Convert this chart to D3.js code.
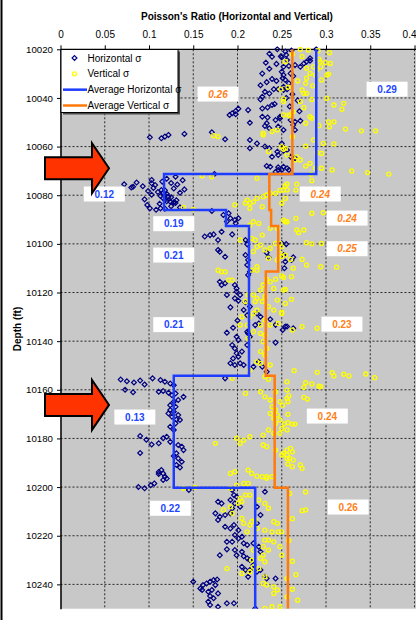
<!DOCTYPE html>
<html>
<head>
<meta charset="utf-8">
<script src="https://cdn.jsdelivr.net/npm/d3@7"></script>
<style>
  html, body { margin: 0; padding: 0; background: #fff; }
  svg { display: block; font-family: "Liberation Sans", Arial, sans-serif; }
</style>
</head>
<body>
<svg id="chart" width="416" height="620"></svg>
<script>
// ---- Axis ticks ----
const xTicks = [0, 0.05, 0.1, 0.15, 0.2, 0.25, 0.3, 0.35, 0.4];
const xTickLabels = ["0", "0.05", "0.1", "0.15", "0.2", "0.25", "0.3", "0.35", "0.4"];
const yTicks = [10020, 10040, 10060, 10080, 10100, 10120, 10140, 10160, 10180, 10200, 10220, 10240];

// ---- Horizontal Poisson's ratio samples: [depth ft, ratio] ----
const horizontalSigma = [
  [10020.0,0.245],[10020.9,0.254],[10020.5,0.261],[10020.0,0.289],[10023.1,0.239],[10022.9,0.249],[10022.3,0.255],[10023.7,0.282],
  [10027.2,0.252],[10026.9,0.258],[10026.5,0.265],[10027.2,0.271],[10025.8,0.275],[10025.1,0.278],[10024.7,0.282],[10030.6,0.252],
  [10029.9,0.260],[10031.0,0.263],[10032.6,0.254],[10034.0,0.258],[10036.7,0.252],[10036.4,0.256],
  [10047.7,0.248],[10049.1,0.260],[10049.8,0.265],[10049.4,0.271],[10051.1,0.263],[10053.2,0.265],[10058.7,0.250],[10060.3,0.252],
  [10061.4,0.256],[10064.2,0.260],[10064.8,0.265],[10068.3,0.252],[10069.6,0.258],
  [10023.3,0.250],[10024.4,0.256],[10029.2,0.250],[10031.9,0.251],[10032.2,0.239],[10036.4,0.241],[10036.4,0.246],[10035.4,0.252],
  [10039.5,0.228],[10040.6,0.226],[10042.5,0.242],[10042.9,0.239],[10043.9,0.234],[10044.3,0.228],[10045.0,0.212],[10044.4,0.201],
  [10045.4,0.198],[10046.3,0.194],[10047.0,0.191],[10046.7,0.198],[10047.7,0.228],[10048.0,0.234],[10049.1,0.243],[10048.4,0.248],
  [10050.2,0.214],[10050.4,0.233],[10051.5,0.231],[10052.5,0.236],[10051.8,0.246],[10053.2,0.252],[10057.3,0.214],[10058.7,0.222],
  [10060.7,0.214],[10060.0,0.231],[10060.7,0.236],[10062.1,0.245],[10061.7,0.252],[10064.2,0.239],[10063.5,0.246],[10068.0,0.233],
  [10068.3,0.237],[10068.5,0.246],[10069.6,0.250],[10068.9,0.256],[10054.1,0.171],[10057.0,0.186],[10054.8,0.140],[10055.2,0.122],
  [10055.9,0.118],[10056.6,0.114],[10056.2,0.101],[10071.3,0.174],[10070.4,0.243],[10069.6,0.246],
  [10025.5,0.232],[10028.0,0.236],[10030.0,0.228],[10033.5,0.233],[10034.8,0.226],[10037.5,0.231],[10038.2,0.236],[10026.0,0.244],
  [10033.0,0.244],[10021.8,0.236],[10038.5,0.262],[10041.0,0.268],[10043.5,0.259],[10045.5,0.270],[10040.0,0.255],
  [10072.4,0.130],[10073.2,0.120],[10073.8,0.138],[10074.4,0.115],[10075.0,0.125],[10075.6,0.132],[10076.3,0.093],[10076.5,0.082],
  [10077.2,0.128],[10077.6,0.140],[10078.0,0.118],[10078.3,0.099],[10078.7,0.110],[10079.0,0.135],[10079.4,0.120],[10079.8,0.103],
  [10080.3,0.113],[10080.8,0.125],[10081.2,0.116],[10081.7,0.095],[10082.1,0.131],[10082.5,0.120],[10083.0,0.128],[10083.5,0.112],
  [10084.0,0.098],[10084.5,0.125],[10085.0,0.135],[10085.5,0.118],[10086.0,0.108],
  [10075.1,0.103],[10075.8,0.107],[10077.0,0.105],[10077.9,0.114],[10079.0,0.116],[10079.9,0.118],[10080.6,0.122],[10082.0,0.118],
  [10082.7,0.124],[10083.1,0.128],[10085.4,0.113],[10083.2,0.130],[10073.7,0.103],[10085.4,0.101],[10075.5,0.072],[10076.8,0.080],
  [10074.8,0.086],
  [10086.5,0.171],[10088.1,0.184],[10087.4,0.190],[10089.5,0.192],[10090.2,0.197],[10089.5,0.201],[10091.5,0.198],[10090.8,0.188],
  [10095.0,0.182],[10096.4,0.169],[10097.0,0.163],[10096.1,0.173],[10098.4,0.178],[10096.1,0.194],[10098.4,0.209],[10100.2,0.211],
  [10102.5,0.178],[10103.2,0.180],[10105.3,0.186],[10104.6,0.209],[10106.6,0.212],[10108.7,0.211],[10103.6,0.233],[10105.5,0.235],
  [10111.5,0.214],[10112.8,0.212],[10115.6,0.180],[10116.9,0.182],[10116.2,0.186],[10116.9,0.197],[10118.3,0.199],[10119.7,0.199],
  [10121.0,0.188],[10121.0,0.203],[10122.4,0.197],[10123.4,0.201],[10126.1,0.192],[10124.0,0.209],[10125.8,0.214],[10127.2,0.207],
  [10129.3,0.211],[10128.6,0.222],[10130.0,0.226],[10132.7,0.224],[10133.4,0.220],[10131.0,0.237],[10133.3,0.243],[10134.0,0.256],
  [10099.8,0.250],[10100.1,0.255],[10104.6,0.252],[10105.5,0.263],[10106.6,0.261],[10107.3,0.254],[10110.0,0.253],[10134.0,0.254],
  [10134.7,0.263],[10135.4,0.251],[10134.5,0.195],[10136.5,0.188],[10131.5,0.200],
  [10138.2,0.199],[10139.5,0.201],[10141.6,0.194],[10143.0,0.197],[10145.0,0.199],[10144.3,0.205],[10146.4,0.201],[10147.1,0.195],
  [10149.1,0.192],[10149.1,0.203],[10149.8,0.197],[10149.8,0.207],[10136.1,0.211],[10136.8,0.212],[10138.2,0.214],[10141.6,0.211],
  [10148.5,0.224],[10150.5,0.218],[10150.5,0.228],[10152.6,0.233],[10140.6,0.243],[10155.3,0.186],
  [10155.3,0.104],[10156.0,0.113],[10156.7,0.118],[10157.4,0.124],[10158.1,0.128],[10160.8,0.111],[10160.5,0.116],[10161.2,0.122],
  [10162.2,0.126],[10161.5,0.130],[10162.9,0.139],[10164.2,0.133],[10164.9,0.128],[10166.3,0.124],[10167.0,0.130],[10168.3,0.124],
  [10169.0,0.128],[10169.7,0.122],[10170.4,0.133],[10171.1,0.126],[10172.2,0.131],[10172.4,0.135],[10173.8,0.130],[10175.2,0.124],
  [10176.5,0.128],[10179.3,0.120],[10179.9,0.116],[10182.0,0.111],[10181.4,0.124],[10182.7,0.133],[10183.4,0.137],[10184.8,0.139],
  [10186.1,0.131],[10187.2,0.128],[10188.2,0.133],[10189.6,0.137],[10190.9,0.131],[10191.9,0.135],[10193.0,0.114],[10194.4,0.116],
  [10195.7,0.118],[10194.6,0.111],
  [10155.8,0.068],[10156.5,0.075],[10157.0,0.083],[10156.2,0.090],[10157.8,0.095],[10160.0,0.073],[10161.0,0.082],[10179.0,0.090],
  [10180.5,0.097],[10182.5,0.103],[10186.0,0.090],[10199.2,0.102],[10198.5,0.106],[10197.1,0.116],[10196.5,0.120],[10193.8,0.111],
  [10200.0,0.088],[10200.5,0.095],
  [10201.2,0.145],[10206.0,0.178],[10206.7,0.182],[10210.8,0.175],[10212.2,0.180],[10213.5,0.178],[10211.5,0.186],[10201.2,0.194],
  [10203.3,0.196],[10205.3,0.192],[10206.7,0.197],[10208.8,0.194],[10210.8,0.192],[10204.0,0.199],[10208.1,0.203],[10216.3,0.186],
  [10217.0,0.192],[10215.6,0.196],[10217.7,0.201],[10219.7,0.197],[10221.1,0.201],[10220.4,0.205],[10222.5,0.188],[10222.5,0.194],
  [10223.1,0.207],[10223.8,0.211],[10225.6,0.188],[10225.9,0.197],[10226.6,0.205],[10228.0,0.180],[10228.0,0.199],[10228.4,0.207],
  [10229.3,0.211],[10230.0,0.214],[10232.8,0.205],[10232.0,0.218],[10234.1,0.209],[10234.1,0.214],[10234.8,0.222],[10236.9,0.212],
  [10223.1,0.218],[10224.5,0.224],[10226.6,0.226],[10201.9,0.231],[10208.1,0.222],[10211.5,0.226],[10214.9,0.222],[10234.1,0.226],
  [10236.9,0.231],[10237.6,0.243],[10237.6,0.233],
  [10238.9,0.150],[10241.7,0.158],[10240.3,0.161],[10242.3,0.160],[10239.6,0.165],[10238.9,0.169],[10238.2,0.173],[10238.0,0.177],
  [10240.3,0.175],[10243.0,0.167],[10242.3,0.171],[10243.7,0.178],[10244.8,0.169],[10245.7,0.173],[10247.1,0.167],[10248.5,0.169],
  [10249.2,0.178],[10247.8,0.188],[10247.8,0.196],[10249.9,0.220]
];

// ---- Vertical Poisson's ratio samples: [depth ft, ratio] ----
const verticalSigma = [
  [10020.0,0.271],[10020.3,0.280],[10020.6,0.291],[10021.4,0.304],[10023.0,0.273],[10024.1,0.292],
  [10025.1,0.254],[10025.1,0.293],[10025.5,0.299],[10025.8,0.305],[10027.2,0.286],[10027.8,0.278],[10028.2,0.290],[10027.2,0.294],
  [10029.9,0.282],[10030.6,0.288],[10030.6,0.301],[10030.2,0.303],[10032.6,0.295],[10031.9,0.278],[10034.0,0.277],[10036.7,0.273],
  [10038.1,0.275],[10038.1,0.278],[10041.5,0.271],[10040.6,0.284],[10040.2,0.301],[10041.5,0.252],[10042.9,0.309],[10042.2,0.320],
  [10044.7,0.318],[10045.7,0.263],[10047.0,0.252],[10047.0,0.258],[10047.7,0.282],[10048.4,0.284],[10049.8,0.303],[10049.8,0.309],
  [10051.4,0.292],[10051.8,0.304],[10052.8,0.322],[10053.5,0.340],[10053.5,0.356],[10050.4,0.277],[10057.3,0.286],[10058.7,0.297],
  [10058.9,0.309],[10059.8,0.277],[10061.1,0.252],[10062.5,0.290],[10062.8,0.295],[10064.2,0.267],[10065.5,0.271],[10065.5,0.265],
  [10066.9,0.282],[10068.0,0.277],[10068.9,0.288],[10068.9,0.295],[10069.6,0.307],[10070.0,0.329],[10070.7,0.347],[10071.3,0.371],
  [10071.4,0.283],[10074.0,0.284],[10075.4,0.256],[10075.4,0.267],[10077.9,0.266],[10077.9,0.252],[10087.4,0.284],[10087.2,0.297],
  [10089.5,0.266],
  [10036.4,0.249],[10035.6,0.257],[10040.4,0.252],[10047.4,0.259],[10053.2,0.245],[10053.8,0.239],[10054.5,0.229],[10055.2,0.229],
  [10055.5,0.173],[10055.9,0.178],[10060.0,0.250],[10060.7,0.254],[10062.1,0.235],[10063.5,0.256],[10073.0,0.222],[10072.4,0.171],
  [10072.0,0.160],[10033.0,0.268],[10035.0,0.285],[10022.0,0.262],[10044.0,0.275],[10056.0,0.262],
  [10085.0,0.139],[10085.8,0.150],[10079.9,0.233],[10079.2,0.237],[10080.6,0.229],[10081.3,0.222],[10082.7,0.218],[10082.0,0.211],
  [10083.3,0.209],[10083.3,0.214],[10084.0,0.197],[10084.7,0.228],[10085.4,0.214],[10079.2,0.243],[10078.0,0.248],[10076.2,0.254],
  [10077.8,0.256],[10081.3,0.254],[10083.3,0.250],[10090.2,0.252],[10090.9,0.256],[10093.6,0.245],[10093.6,0.237],[10091.6,0.224],
  [10090.9,0.218],[10092.3,0.214],[10098.4,0.203],[10097.7,0.216],[10098.4,0.220],[10096.4,0.228],[10101.2,0.222],[10100.5,0.226],
  [10102.5,0.231],[10103.2,0.218],[10101.8,0.237],[10099.8,0.243],[10099.8,0.248],[10101.2,0.250],[10103.9,0.248],[10106.6,0.245],
  [10105.2,0.250],[10109.4,0.222],[10110.8,0.216],[10110.8,0.222],[10105.9,0.235],[10113.8,0.252],[10114.5,0.243],[10114.5,0.233],
  [10115.6,0.237],[10116.9,0.229],[10118.3,0.241],[10110.8,0.178],[10111.5,0.182],[10111.5,0.186],[10114.9,0.190],[10114.9,0.194],
  [10119.0,0.226],[10121.0,0.218],[10121.0,0.212],[10122.4,0.222],[10123.7,0.209],[10123.7,0.220],[10121.7,0.231],[10123.7,0.228],
  [10125.8,0.235],[10123.1,0.245],[10127.2,0.241],[10127.2,0.222],[10128.6,0.218],[10130.0,0.214],[10130.0,0.205],[10133.4,0.203],
  [10133.4,0.211],[10133.4,0.226],[10131.3,0.231],[10133.4,0.237],[10132.7,0.246],[10128.6,0.250],[10124.5,0.254],
  [10090.9,0.254],[10094.3,0.267],[10095.4,0.269],[10094.3,0.275],[10099.5,0.278],[10100.0,0.284],[10099.8,0.295],[10104.6,0.254],
  [10106.4,0.260],[10106.4,0.273],[10108.7,0.278],[10109.4,0.294],[10109.6,0.312],[10110.0,0.263],[10113.2,0.250],[10113.5,0.261],
  [10119.0,0.252],[10118.7,0.254],[10122.8,0.261],[10128.1,0.250],[10134.0,0.273],[10134.7,0.290],[10135.4,0.262],
  [10136.1,0.218],[10136.8,0.226],[10137.5,0.231],[10138.9,0.212],[10140.2,0.229],[10143.0,0.233],[10144.3,0.226],[10145.7,0.231],
  [10148.5,0.222],[10149.1,0.226],[10149.8,0.237],[10151.9,0.214],[10154.6,0.231],[10155.7,0.235],[10155.3,0.194],
  [10152.1,0.264],[10152.8,0.290],[10152.9,0.307],[10154.3,0.309],[10153.6,0.320],[10154.3,0.326],[10153.5,0.345],[10155.0,0.355],
  [10156.7,0.256],[10161.5,0.209],[10160.8,0.226],[10162.9,0.231],[10164.2,0.237],[10160.8,0.243],[10164.9,0.248],[10163.5,0.256],
  [10167.0,0.239],[10168.3,0.243],[10169.7,0.237],[10170.4,0.245],[10171.7,0.241],[10172.4,0.248],[10173.8,0.243],[10176.5,0.235],
  [10178.6,0.229],[10177.9,0.241],[10177.9,0.248],[10176.5,0.256],[10179.9,0.199],[10182.0,0.203],[10180.7,0.207],[10179.3,0.214],
  [10182.0,0.175],[10182.7,0.229],[10183.4,0.233],[10184.8,0.243],[10186.8,0.250],[10188.2,0.256],[10194.4,0.192],[10193.7,0.197],
  [10193.0,0.212],[10194.4,0.216],[10195.5,0.222],[10195.7,0.228],[10195.7,0.233],[10195.7,0.239],
  [10157.1,0.277],[10157.6,0.284],[10158.5,0.292],[10158.7,0.294],[10159.0,0.275],[10160.1,0.256],[10162.5,0.258],[10164.9,0.257],
  [10166.3,0.251],[10163.1,0.275],[10163.8,0.279],[10170.1,0.257],[10173.5,0.257],[10174.1,0.262],[10174.1,0.265],[10175.9,0.250],
  [10174.0,0.253],[10184.8,0.256],[10184.1,0.260],[10185.5,0.262],[10186.8,0.256],[10188.2,0.259],[10188.9,0.263],[10190.5,0.257],
  [10191.6,0.262],[10190.9,0.271],[10192.3,0.273],[10186.0,0.252],
  [10196.4,0.233],[10198.5,0.207],[10198.5,0.212],[10200.5,0.139],[10200.1,0.152],[10200.5,0.192],[10199.2,0.199],[10204.6,0.203],
  [10205.9,0.205],[10206.6,0.201],[10203.3,0.209],[10203.3,0.214],[10205.3,0.224],[10206.7,0.231],[10208.7,0.235],[10214.9,0.245],
  [10214.2,0.241],[10218.4,0.246],[10218.4,0.239],[10217.7,0.231],[10213.5,0.220],[10214.2,0.216],[10212.9,0.205],[10214.9,0.207],
  [10215.6,0.214],[10218.4,0.211],[10217.0,0.222],[10210.8,0.194],[10208.1,0.192],[10209.4,0.184],[10221.8,0.231],[10221.8,0.235],
  [10222.5,0.241],[10224.5,0.229],[10225.9,0.235],[10224.5,0.248],[10228.0,0.250],[10225.9,0.218],[10229.3,0.226],[10230.7,0.231],
  [10228.0,0.229],[10230.0,0.216],[10232.8,0.218],[10233.5,0.224],[10233.5,0.188],[10235.5,0.205],[10234.8,0.214],[10236.9,0.231],
  [10240.3,0.233],[10239.6,0.229],[10241.0,0.241],[10242.3,0.245],[10243.7,0.241],[10249.9,0.231],[10249.2,0.239],[10249.2,0.248],
  [10237.6,0.256],[10245.1,0.256],[10202.6,0.259],[10202.0,0.277],[10209.7,0.273],[10209.4,0.277],[10218.4,0.250],
  [10230.5,0.262],[10236.0,0.266],[10242.0,0.262],[10246.5,0.268],[10222.0,0.258],[10213.0,0.262]
];

// ---- Zone averages: depth breaks (ft) and average ratio per zone ----
const avgHorizontalBreaks = [10020, 10071.3, 10086.1, 10092.6, 10122, 10154.2, 10200.3, 10250];
const avgHorizontalValues = [0.289, 0.117, 0.187, 0.213, 0.213, 0.128, 0.220];
const avgVerticalBreaks   = [10020, 10071.3, 10086.1, 10092.6, 10111.4, 10154.2, 10200.3, 10250];
const avgVerticalValues   = [0.262, 0.236, 0.238, 0.246, 0.232, 0.242, 0.257];

// ---- Annotation layout (label box centres in axis units, arrow depths) ----
const avgHorizontalLabelAt = [[0.369,10036.4],[0.0495,10079.5],[0.128,10091.7],[0.128,10104.6],[0.128,10133.2],[0.084,10171.2],[0.124,10208.7]];
const avgVerticalLabelAt   = [[0.178,10038.4],[0.2935,10079.5],[0.3238,10089.4],[0.3238,10102.0],[0.318,10133.0],[0.3015,10170.8],[0.325,10208.2]];
const avgVerticalItalic    = [true, true, true, true, false, false, false];
const arrowDepths = [10068.9, 10166.2];

// ---- Layout ----
const W = 416, H = 620;
const plot = { left: 60.5, right: 414.5, top: 49.3, bottom: 608.7 };
const BLUE = "#1e3cff", ORANGE = "#ff7a0a", NAVY = "#000080", YELLOW = "#ffff00";

const svg = d3.select("#chart");
const x = d3.scaleLinear().domain([0, 0.4]).range([plot.left, plot.right]);
const y = d3.scaleLinear().domain([10020, 10250]).range([plot.top, plot.bottom]);

svg.append("rect").attr("width", W).attr("height", H).attr("fill", "#fff");
// chart frame edge on the left
svg.append("line").attr("x1", 1.5).attr("x2", 1.5).attr("y1", 0).attr("y2", H)
  .attr("stroke", "#000").attr("stroke-width", 2);

// plot area
svg.append("rect")
  .attr("x", plot.left).attr("y", plot.top)
  .attr("width", W - plot.left).attr("height", plot.bottom - plot.top)
  .attr("fill", "#c8c8c8");

// gridlines
const grid = svg.append("g").attr("stroke", "#2a2a2a").attr("stroke-width", 1)
  .attr("stroke-dasharray", "2,2");
grid.selectAll("line.v").data(xTicks.filter(d => d > 0)).join("line")
  .attr("x1", d => x(d)).attr("x2", d => x(d))
  .attr("y1", plot.top).attr("y2", plot.bottom);
grid.selectAll("line.h").data(yTicks.filter(d => d > 10020)).join("line")
  .attr("x1", plot.left).attr("x2", W)
  .attr("y1", d => y(d)).attr("y2", d => y(d));

// axes
const xAxis = d3.axisTop(x).tickValues(xTicks)
  .tickFormat((d, i) => xTickLabels[i]).tickSizeInner(4).tickSizeOuter(0).tickPadding(7.5);
const gx = svg.append("g").attr("transform", `translate(0,${plot.top})`).call(xAxis);
gx.select(".domain").attr("d", `M${plot.left},0H${W}`).attr("stroke-width", 1.2);
gx.selectAll("text").attr("font-size", "10px").attr("font-family", "Liberation Sans, Arial, sans-serif").attr("fill", "#000");
// the last tick label sits against the right edge of the chart
gx.selectAll(".tick").filter(d => d === 0.4).select("text")
  .attr("text-anchor", "end").attr("x", W - plot.right);

const yAxis = d3.axisLeft(y).tickValues(yTicks).tickFormat(d3.format("d"))
  .tickSizeInner(3.5).tickSizeOuter(0).tickPadding(4);
const gy = svg.append("g").attr("transform", `translate(${plot.left},0)`).call(yAxis);
gy.select(".domain").attr("stroke-width", 1.5);
gy.selectAll("text").attr("font-size", "9.7px").attr("font-family", "Liberation Sans, Arial, sans-serif").attr("fill", "#000");

// titles
svg.append("text").attr("x", 237).attr("y", 20).attr("text-anchor", "middle")
  .attr("font-size", "10px").attr("font-weight", "bold")
  .text("Poisson's Ratio (Horizontal and Vertical)");
svg.append("text").attr("transform", "translate(20.5,329) rotate(-90)")
  .attr("text-anchor", "middle").attr("font-size", "10px").attr("font-weight", "bold")
  .text("Depth (ft)");

// scatter series
svg.append("clipPath").attr("id", "plotClip").append("rect")
  .attr("x", plot.left).attr("y", plot.top - 3).attr("width", W - plot.left).attr("height", plot.bottom - plot.top + 3);
const marks = svg.append("g").attr("clip-path", "url(#plotClip)");

const diamond = d3.symbol().type(d3.symbolDiamond2).size(15);
marks.append("g").selectAll("path").data(horizontalSigma).join("path")
  .attr("d", diamond)
  .attr("transform", d => `translate(${x(d[1])},${y(d[0])})`)
  .attr("fill", "none").attr("stroke", NAVY).attr("stroke-width", 1.2);

marks.append("g").selectAll("circle").data(verticalSigma).join("circle")
  .attr("cx", d => x(d[1])).attr("cy", d => y(d[0])).attr("r", 2)
  .attr("fill", "none").attr("stroke", YELLOW).attr("stroke-width", 1.3);

// zone-average step lines
function stepPoints(breaks, values) {
  const pts = [];
  values.forEach((v, i) => { pts.push([v, breaks[i]]); pts.push([v, breaks[i + 1]]); });
  return pts;
}
const stepLine = d3.line().x(d => x(d[0])).y(d => y(d[1]));
marks.append("path").datum(stepPoints(avgHorizontalBreaks, avgHorizontalValues))
  .attr("d", stepLine).attr("fill", "none").attr("stroke", BLUE).attr("stroke-width", 2.5);
marks.append("path").datum(stepPoints(avgVerticalBreaks, avgVerticalValues))
  .attr("d", stepLine).attr("fill", "none").attr("stroke", ORANGE).attr("stroke-width", 2.5);

// zone-average value labels
const fmt = d3.format(".2f");
function valueLabels(values, at, color, italic) {
  const g = svg.append("g");
  values.forEach((v, i) => {
    const cx = x(at[i][0]), cy = y(at[i][1]);
    g.append("rect").attr("x", cx - 20.5).attr("y", cy - 7.5).attr("width", 41).attr("height", 15).attr("fill", "#fff");
    g.append("text").attr("x", cx).attr("y", cy).attr("dy", "0.36em")
      .attr("text-anchor", "middle").attr("font-size", "10px").attr("font-weight", "bold")
      .attr("font-style", italic && italic[i] ? "italic" : "normal")
      .attr("fill", color).text(fmt(v));
  });
}
valueLabels(avgHorizontalValues, avgHorizontalLabelAt, "#2246ff", null);
valueLabels(avgVerticalValues, avgVerticalLabelAt, "#ff7f1a", avgVerticalItalic);

// legend
const lg = svg.append("g");
lg.append("rect").attr("x", 63).attr("y", 51.5).attr("width", 117).attr("height", 63).attr("fill", "#4a4a4a");
lg.append("rect").attr("x", 61).attr("y", 49.5).attr("width", 117).attr("height", 63)
  .attr("fill", "#fff").attr("stroke", "#000").attr("stroke-width", 1);
const legendRows = [
  { label: "Horizontal σ", kind: "diamond" },
  { label: "Vertical σ", kind: "circle" },
  { label: "Average Horizontal σ", kind: "line", color: BLUE },
  { label: "Average Vertical σ", kind: "line", color: ORANGE }
];
const rowY = d3.scalePoint().domain(d3.range(legendRows.length)).range([58, 105.5]);
legendRows.forEach((r, i) => {
  const cy = rowY(i);
  if (r.kind === "diamond") {
    lg.append("path").attr("d", diamond).attr("transform", `translate(74.5,${cy})`)
      .attr("fill", "none").attr("stroke", NAVY).attr("stroke-width", 1.2);
  } else if (r.kind === "circle") {
    lg.append("circle").attr("cx", 74.5).attr("cy", cy).attr("r", 2)
      .attr("fill", "none").attr("stroke", YELLOW).attr("stroke-width", 1.3);
  } else {
    lg.append("line").attr("x1", 63).attr("x2", 87).attr("y1", cy).attr("y2", cy)
      .attr("stroke", r.color).attr("stroke-width", 2.5);
  }
  lg.append("text").attr("x", 87.5).attr("y", cy).attr("dy", "0.35em")
    .attr("font-size", "10px").attr("fill", "#000").text(r.label);
});

// highlight arrows
arrowDepths.forEach(dep => {
  const c = y(dep);
  const pts = [[45, c - 11], [92, c - 11], [92, c - 25], [109, c], [92, c + 25], [92, c + 11], [45, c + 11]];
  svg.append("path").attr("d", d3.line()(pts) + "Z")
    .attr("fill", "#ff3300").attr("stroke", "#000").attr("stroke-width", 2)
    .attr("stroke-linejoin", "miter");
});
</script>
</body>
</html>
